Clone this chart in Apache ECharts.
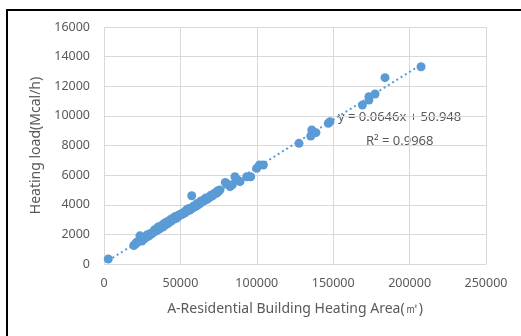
<!DOCTYPE html>
<html>
<head>
<meta charset="utf-8">
<script src="https://cdn.jsdelivr.net/npm/echarts@6/dist/echarts.min.js"></script>
<style>
  html, body { margin: 0; padding: 0; background: #fff; }
  #chart { width: 521px; height: 336px; }
</style>
</head>
<body>
<div id="chart"></div>
<script>
// Heating area (m²) of each residential building
const areas = [
  2800,
  19500, 20500, 21000, 22000, 23000, 23500, 24000, 24500,
  25000, 26500, 27000, 28500, 29500, 30500, 31500, 32000, 33500, 34500,
  35000, 36000, 37000, 37500, 38500, 39500, 40000, 41000, 42000, 43000,
  44000, 45000, 45500, 46500, 47000, 48000, 49000, 50000, 51000, 52000,
  53000, 54000, 55000, 55500, 56500, 57400, 58000, 59000, 60000, 61000,
  62000, 63000, 64000, 65000, 66000, 67000, 68000, 69000, 70000, 71000,
  72000, 73000, 74000, 75000, 75900,
  21500, 24800, 26000, 28000, 30000, 33000, 35500, 36500, 38000, 40500,
  42500, 44500, 46000, 47500, 49500, 52500, 54500, 56000, 58500, 60500,
  63500, 66500, 69500, 72500, 74500,
  34000, 36800, 39000, 41500, 43500, 46800, 48500, 51500, 53500, 55200,
  61500, 65500, 70500,
  79400, 80500, 82500, 84000, 85700, 86500, 89000, 93400, 96000, 99900, 101700, 104300,
  127600, 135300, 136000, 138700, 146800, 147900,
  169100, 173400, 173400, 177400, 183900, 207500
];
// Heating load (Mcal/h) of the same buildings
const loads = [
  340,
  1250, 1350, 1400, 1500, 1550, 1900, 1600, 1750,
  1650, 1700, 1800, 1850, 1900, 2000, 2050, 2150, 2200, 2250,
  2400, 2350, 2450, 2550, 2500, 2600, 2650, 2700, 2750, 2850,
  2900, 3000, 3100, 3050, 3200, 3150, 3250, 3300, 3350, 3400,
  3450, 3550, 3600, 3700, 3650, 4610, 3800, 3850, 3900, 3950,
  4050, 4100, 4200, 4250, 4300, 4350, 4400, 4500, 4550, 4600,
  4700, 4750, 4800, 4900, 5000,
  1450, 1550, 1800, 1950, 2050, 2300, 2500, 2400, 2600, 2800,
  2900, 3050, 3150, 3100, 3350, 3450, 3700, 3750, 3900, 4050,
  4250, 4450, 4600, 4800, 4950,
  2350, 2550, 2700, 2850, 3000, 3200, 3250, 3450, 3600, 3720,
  4100, 4350, 4650,
  5510, 5400, 5220, 5350, 5890, 5750, 5560, 5890, 5890, 6460, 6680, 6680,
  8145, 8640, 9045, 8865, 9495, 9610,
  10730, 11070, 11295, 11475, 12580, 13320
];
// Linear trend line fitted to the data
const slope = 0.0646;
const intercept = 50.948;
const trendText = 'y = 0.0646x + 50.948';
const r2Text = 'R² = 0.9968';
const xTicks = [0, 50000, 100000, 150000, 200000, 250000];
const yTicks = [0, 2000, 4000, 6000, 8000, 10000, 12000, 14000, 16000];

const points = areas.map((a, i) => [a, loads[i]]);
const xMinData = Math.min(...areas), xMaxData = Math.max(...areas);
const trend = [
  [xMinData, slope * xMinData + intercept],
  [xMaxData, slope * xMaxData + intercept]
];

const font = '"Noto Sans", "DejaVu Sans", sans-serif';
const textColor = '#595959';
const gridColor = '#d9d9d9';
const blue = '#5b9bd5';
const plain = v => String(v);

const chart = echarts.init(document.getElementById('chart'));
chart.setOption({
  animation: false,
  backgroundColor: '#fff',
  grid: { left: 104, right: 35, top: 27, bottom: 72, containLabel: false },
  xAxis: {
    type: 'value',
    min: xTicks[0], max: xTicks[xTicks.length - 1], interval: 50000,
    name: 'A-Residential Building Heating Area(㎡)',
    nameLocation: 'middle', nameGap: 38,
    nameTextStyle: { color: textColor, fontSize: 14, fontFamily: font },
    axisLine: { show: true, lineStyle: { color: gridColor, width: 1 } },
    axisTick: { show: false },
    axisLabel: { color: textColor, fontSize: 12.5, fontFamily: font, margin: 13, formatter: plain },
    splitLine: { show: true, lineStyle: { color: gridColor, width: 1 } }
  },
  yAxis: {
    type: 'value',
    min: yTicks[0], max: yTicks[yTicks.length - 1], interval: 2000,
    name: 'Heating load(Mcal/h)',
    nameLocation: 'middle', nameGap: 57,
    nameTextStyle: { color: textColor, fontSize: 14, fontFamily: font },
    axisLine: { show: false },
    axisTick: { show: false },
    axisLabel: { color: textColor, fontSize: 12.5, fontFamily: font, margin: 14, formatter: plain },
    splitLine: { show: true, lineStyle: { color: gridColor, width: 1 } }
  },
  series: [
    {
      type: 'line',
      data: trend,
      symbol: 'none',
      lineStyle: { color: blue, width: 2, type: [2, 3] },
      silent: true,
      z: 1
    },
    {
      type: 'scatter',
      data: points,
      symbolSize: 9,
      itemStyle: { color: blue, opacity: 1 },
      z: 2
    }
  ],
  graphic: [
    {
      type: 'rect',
      shape: { x: 7, y: 10, width: 620, height: 400 },
      style: { fill: 'none', stroke: '#000', lineWidth: 2 },
      silent: true
    },
    {
      type: 'text', left: 338, top: 111,
      style: { text: trendText, fill: textColor, font: '13px ' + font }
    },
    {
      type: 'text', left: 366, top: 135,
      style: { text: r2Text, fill: textColor, font: '13px ' + font }
    }
  ]
});
</script>
</body>
</html>
